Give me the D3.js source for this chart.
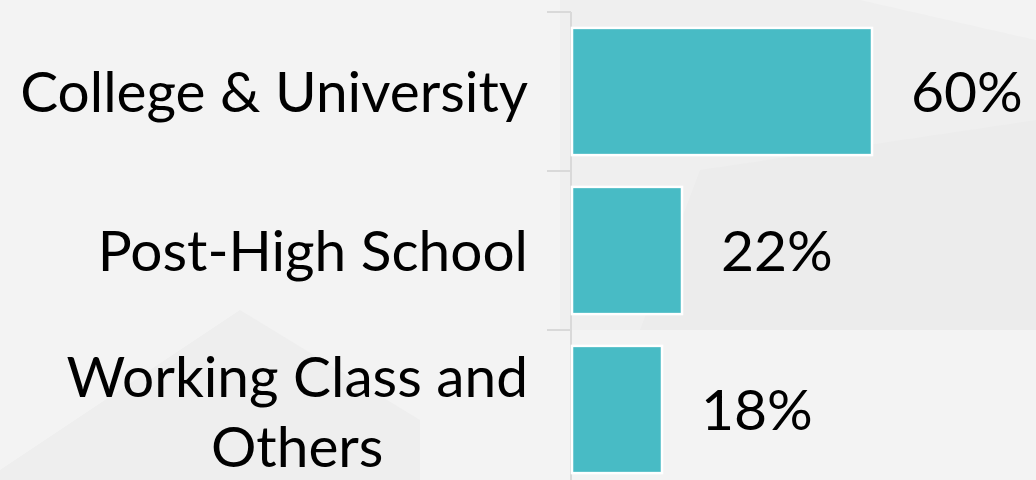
<!DOCTYPE html>
<html><head><meta charset="utf-8">
<script src="https://cdn.jsdelivr.net/npm/d3@7"></script>
<style>html,body{margin:0;padding:0;background:#f3f3f3;overflow:hidden}</style>
</head><body>
<svg id="chart" width="1036" height="480"></svg>
<script>
const categories = ["College & University", "Post-High School", "Working Class and Others"];
const labelLines = [["College & University"], ["Post-High School"], ["Working Class and", "Others"]];
const values = [60, 22, 18];
const valueLabels = ["60%", "22%", "18%"];

const W = 1036, H = 480;
const svg = d3.select("#chart");
const font = "Lato, 'Open Sans', sans-serif";

// background shapes
svg.append("rect").attr("width", W).attr("height", H).attr("fill", "#f3f3f3");
const bg = svg.append("g");
bg.append("path").attr("d", "M1036,40 L860,0 L560,0 L560,330 L1036,330 Z").attr("fill", "#efefef");
bg.append("path").attr("d", "M700,170 L1036,120 L1036,330 L640,330 Z").attr("fill", "#ececec");
bg.append("path").attr("d", "M0,470 L240,310 L420,420 L420,480 L0,480 Z").attr("fill", "#eeeeee");

const x0 = 571;
const x = d3.scaleLinear().domain([0, 100]).range([x0, x0 + 500]);
const y = d3.scaleBand().domain(categories).range([12, 12 + 159 * 3]).paddingInner(0.2).paddingOuter(0.1);

// axis line and ticks
const ax = svg.append("g").attr("stroke", "#d9d9d9").attr("stroke-width", 2);
ax.append("line").attr("x1", x0).attr("x2", x0).attr("y1", 12).attr("y2", H);
[0, 1, 2, 3].forEach(i => {
  const ty = 12 + i * y.step();
  ax.append("line").attr("x1", x0 - 24).attr("x2", x0).attr("y1", ty).attr("y2", ty);
});

// bars
svg.append("g").selectAll("rect").data(categories).join("rect")
  .attr("x", x(0) + 1)
  .attr("y", d => y(d))
  .attr("width", (d, i) => x(values[i]) - x(0))
  .attr("height", y.bandwidth())
  .attr("fill", "#48bbc5")
  .attr("stroke", "#ffffff")
  .attr("stroke-width", 2.5);

// value labels
svg.append("g").selectAll("text").data(categories).join("text")
  .attr("x", (d, i) => x(values[i]) + 40)
  .attr("y", d => y(d) + y.bandwidth() / 2)
  .attr("dy", "0.36em")
  .attr("font-family", font)
  .attr("font-size", 57)
  .attr("fill", "#000")
  .text((d, i) => valueLabels[i]);

// category labels: fit the longest line into the label column
const lab = svg.append("g").attr("font-family", font).attr("font-size", 60).attr("fill", "#000");
const probe = lab.append("text").text(labelLines[0][0]);
const fs = Math.min(60, 60 * 508 / probe.node().getComputedTextLength());
probe.remove();
lab.attr("font-size", fs);
categories.forEach((c, i) => {
  const lines = labelLines[i];
  const cy = y(c) + y.bandwidth() / 2;
  const lh = 70;
  if (lines.length === 1) {
    lab.append("text").attr("x", 528).attr("y", cy).attr("dy", "0.36em").attr("text-anchor", "end").text(lines[0]);
  } else {
    const t1 = lab.append("text").attr("x", 528).attr("y", cy - lh / 2 + 2).attr("dy", "0.36em").attr("text-anchor", "end").text(lines[0]);
    const w1 = t1.node().getComputedTextLength();
    lab.append("text").attr("x", 528 - w1 / 2).attr("y", cy + lh / 2 + 2).attr("dy", "0.36em").attr("text-anchor", "middle").text(lines[1]);
  }
});
</script>
</body></html>
